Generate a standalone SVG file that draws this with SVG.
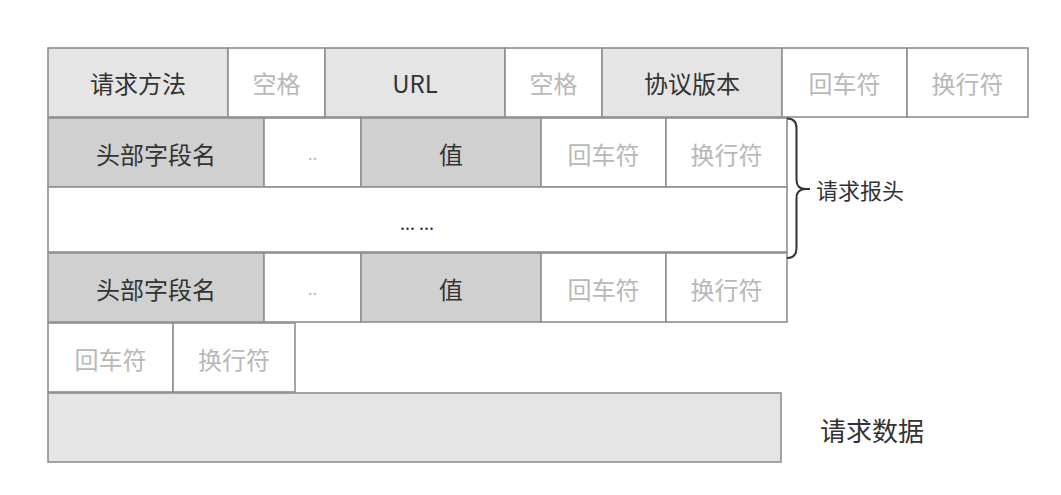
<svg xmlns="http://www.w3.org/2000/svg" width="1061" height="495" viewBox="0 0 1061 495">
<style>
rect{stroke:#8f8f8f;stroke-width:1.6}
.w{fill:#ffffff}
.g{fill:#e5e5e5}
.d{fill:#d0d0d0}
text{font-family:"Noto Sans CJK SC","Liberation Sans",sans-serif;font-size:24px;text-anchor:middle;dominant-baseline:central}
.t{fill:#333333}
.l{fill:#b8b8b8}
.lab{fill:#333333;text-anchor:start}
</style>
<rect x="0" y="0" width="1061" height="495" fill="#fff" style="stroke:none"/>
<g id="row1">
<g id="n-method"><rect class="g" x="48" y="48" width="180" height="69"/><text class="t" x="138" y="82">请求方法</text></g>
<g id="n-space1"><rect class="w" x="228" y="48" width="97" height="69"/><text class="l" x="276.5" y="82">空格</text></g>
<g id="n-url"><rect class="g" x="325" y="48" width="180" height="69"/><text class="t" x="415" y="82">URL</text></g>
<g id="n-space2"><rect class="w" x="505" y="48" width="97" height="69"/><text class="l" x="553.5" y="82">空格</text></g>
<g id="n-version"><rect class="g" x="602" y="48" width="180" height="69"/><text class="t" x="692" y="82">协议版本</text></g>
<g id="n-cr1"><rect class="w" x="782" y="48" width="125" height="69"/><text class="l" x="844.5" y="82">回车符</text></g>
<g id="n-lf1"><rect class="w" x="907" y="48" width="121" height="69"/><text class="l" x="967.5" y="82">换行符</text></g>
</g>
<g id="row2">
<g id="n-hname1"><rect class="d" x="48" y="118" width="216" height="69"/><text class="t" x="156" y="153">头部字段名</text></g>
<g id="n-colon1"><rect class="w" x="264" y="118" width="97" height="69"/><text class="l" x="312.5" y="153" style="font-size:16px">..</text></g>
<g id="n-value1"><rect class="d" x="361" y="118" width="180" height="69"/><text class="t" x="451" y="153">值</text></g>
<g id="n-cr2"><rect class="w" x="541" y="118" width="125" height="69"/><text class="l" x="603.5" y="153">回车符</text></g>
<g id="n-lf2"><rect class="w" x="666" y="118" width="121" height="69"/><text class="l" x="726.5" y="153">换行符</text></g>
</g>
<g id="row3">
<g id="n-more"><rect class="w" x="48" y="187" width="739" height="65"/><text class="t" x="417" y="222" style="font-size:18px">... ...</text></g>
</g>
<g id="row4">
<g id="n-hname2"><rect class="d" x="48" y="253" width="216" height="69"/><text class="t" x="156" y="288">头部字段名</text></g>
<g id="n-colon2"><rect class="w" x="264" y="253" width="97" height="69"/><text class="l" x="312.5" y="288" style="font-size:16px">..</text></g>
<g id="n-value2"><rect class="d" x="361" y="253" width="180" height="69"/><text class="t" x="451" y="288">值</text></g>
<g id="n-cr3"><rect class="w" x="541" y="253" width="125" height="69"/><text class="l" x="603.5" y="288">回车符</text></g>
<g id="n-lf3"><rect class="w" x="666" y="253" width="121" height="69"/><text class="l" x="726.5" y="288">换行符</text></g>
</g>
<g id="row5">
<g id="n-cr4"><rect class="w" x="48" y="323" width="125" height="69"/><text class="l" x="110.5" y="358">回车符</text></g>
<g id="n-lf4"><rect class="w" x="173" y="323" width="122" height="69"/><text class="l" x="234" y="358">换行符</text></g>
</g>
<g id="row6">
<g id="n-body"><rect class="g" x="48" y="393" width="733" height="69"/></g>
</g>
<g id="connectors">
<path d="M787 118.5 Q796.5 118.5 796.5 128 L796.5 180 Q796.5 189 806 189 L810 189 M806 189 Q796.5 189 796.5 198 L796.5 248 Q796.5 258 787 258" fill="none" stroke="#333" stroke-width="2"/>
</g>
<g id="labels">
<text class="lab" x="816" y="189" style="font-size:22px">请求报头</text>
<text class="lab" x="820" y="429" style="font-size:26px">请求数据</text>
</g>
</svg>
